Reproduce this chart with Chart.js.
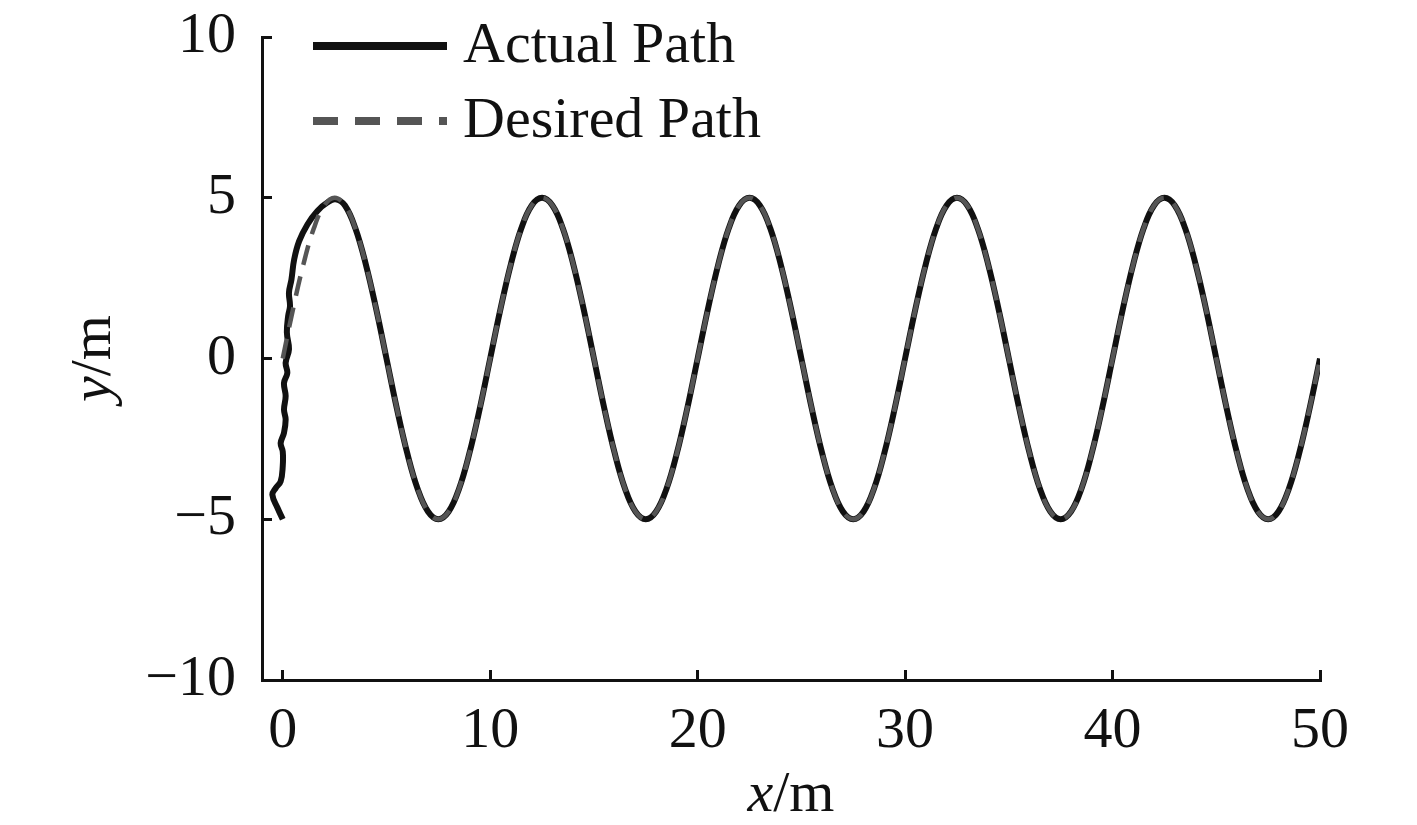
<!DOCTYPE html>
<html>
<head>
<meta charset="utf-8">
<script src="https://cdn.jsdelivr.net/npm/chart.js@4"></script>
<style>
  html, body { margin: 0; padding: 0; background: #fff; }
  #wrap { width: 1417px; height: 825px; }
</style>
</head>
<body>
<div id="wrap"><canvas id="myChart" width="1417" height="825"></canvas></div>
<script>
// tick labels
const xTicks = [0, 10, 20, 30, 40, 50];
const yTicks = [-10, -5, 0, 5, 10];
const seriesNames = ["Actual Path", "Desired Path"];

// desired path, read every 0.5 m
const desiredX = [
  0, 0.5, 1, 1.5, 2, 2.5, 3, 3.5, 4, 4.5, 5, 5.5, 6, 6.5, 7, 7.5, 8, 8.5, 9, 9.5,
  10, 10.5, 11, 11.5, 12, 12.5, 13, 13.5, 14, 14.5, 15, 15.5, 16, 16.5, 17, 17.5, 18, 18.5, 19, 19.5,
  20, 20.5, 21, 21.5, 22, 22.5, 23, 23.5, 24, 24.5, 25, 25.5, 26, 26.5, 27, 27.5, 28, 28.5, 29, 29.5,
  30, 30.5, 31, 31.5, 32, 32.5, 33, 33.5, 34, 34.5, 35, 35.5, 36, 36.5, 37, 37.5, 38, 38.5, 39, 39.5,
  40, 40.5, 41, 41.5, 42, 42.5, 43, 43.5, 44, 44.5, 45, 45.5, 46, 46.5, 47, 47.5, 48, 48.5, 49, 49.5,
  50
];
const desiredY = [
  0, 1.55, 2.94, 4.05, 4.76, 5, 4.76, 4.05, 2.94, 1.55, 0, -1.55, -2.94, -4.05, -4.76, -5, -4.76, -4.05, -2.94, -1.55,
  0, 1.55, 2.94, 4.05, 4.76, 5, 4.76, 4.05, 2.94, 1.55, 0, -1.55, -2.94, -4.05, -4.76, -5, -4.76, -4.05, -2.94, -1.55,
  0, 1.55, 2.94, 4.05, 4.76, 5, 4.76, 4.05, 2.94, 1.55, 0, -1.55, -2.94, -4.05, -4.76, -5, -4.76, -4.05, -2.94, -1.55,
  0, 1.55, 2.94, 4.05, 4.76, 5, 4.76, 4.05, 2.94, 1.55, 0, -1.55, -2.94, -4.05, -4.76, -5, -4.76, -4.05, -2.94, -1.55,
  0, 1.55, 2.94, 4.05, 4.76, 5, 4.76, 4.05, 2.94, 1.55, 0, -1.55, -2.94, -4.05, -4.76, -5, -4.76, -4.05, -2.94, -1.55,
  0
];

// start of the actual path (wobbly climb from (0,-5)) until it joins the desired one near x = 3
const startX = [0, -0.25, -0.5, -0.34, -0.1, 0, 0, -0.1, 0.06, 0.14, 0.06, 0.14, 0.06, 0.22, 0.14,
  0.3, 0.2, 0.26, 0.35, 0.3, 0.42, 0.55, 0.79, 1.19, 1.67, 2.15, 2.55];
const startY = [-5, -4.65, -4.24, -4.03, -3.82, -3.35, -2.89, -2.63, -2.31, -1.9, -1.59, -1.17, -0.76, -0.45, -0.13,
  0.28, 0.8, 1.32, 1.63, 2.05, 2.46, 3.08, 3.65, 4.17, 4.59, 4.85, 4.95];

// after that it lies on the desired path
const actualX = startX.concat(desiredX.slice(6));
const actualY = startY.concat(desiredY.slice(6));

const FONT = '"Liberation Serif", "Times New Roman", serif';
const FS = 58;

function toPoints(xs, ys) {
  return xs.map((x, i) => ({ x: x, y: ys[i] }));
}

function drawMixed(ctx, a, b, cx, y) {
  ctx.font = "italic " + FS + "px " + FONT;
  const wa = ctx.measureText(a).width;
  ctx.font = FS + "px " + FONT;
  const wb = ctx.measureText(b).width;
  const x = cx - (wa + wb) / 2;
  ctx.textAlign = "left";
  ctx.font = "italic " + FS + "px " + FONT;
  ctx.fillText(a, x, y);
  ctx.font = FS + "px " + FONT;
  ctx.fillText(b, x + wa, y);
}

// axis titles (italic variable + upright unit) and the line legend
const extras = {
  id: "extras",
  afterDraw(chart) {
    const ctx = chart.ctx;
    const area = chart.chartArea;
    ctx.save();
    ctx.fillStyle = "#111";
    ctx.textBaseline = "alphabetic";
    drawMixed(ctx, "x", "/m", (area.left + area.right) / 2, 811);
    ctx.translate(110, (area.top + area.bottom) / 2);
    ctx.rotate(-Math.PI / 2);
    drawMixed(ctx, "y", "/m", 0, 0);
    ctx.restore();

    chart.data.datasets.forEach((ds, i) => {
      const y = area.top + 9 + i * 75;
      ctx.save();
      ctx.strokeStyle = ds.borderColor;
      ctx.lineWidth = 8;
      ctx.setLineDash(ds.legendDash || []);
      ctx.beginPath();
      ctx.moveTo(area.left + 51, y);
      ctx.lineTo(area.left + 185, y);
      ctx.stroke();
      ctx.restore();
      ctx.save();
      ctx.fillStyle = "#111";
      ctx.font = FS + "px " + FONT;
      ctx.textAlign = "left";
      ctx.textBaseline = "alphabetic";
      ctx.fillText(ds.label, area.left + 201, y + 16);
      ctx.restore();
    });
  }
};

const data = {
  datasets: [
    {
      label: seriesNames[0],
      data: toPoints(actualX, actualY),
      borderColor: "#111111",
      borderWidth: 6,
      borderJoinStyle: "round",
      pointRadius: 0,
      tension: 0.4,
      order: 2,
    },
    {
      label: seriesNames[1],
      data: toPoints(desiredX, desiredY),
      borderColor: "#555555",
      borderWidth: 4.5,
      borderDash: [20, 12],
      legendDash: [25, 17],
      pointRadius: 0,
      tension: 0.4,
      order: 1,
    },
  ],
};

const config = {
  type: "line",
  data,
  options: {
    responsive: false,
    animation: false,
    devicePixelRatio: 1,
    layout: { padding: { left: 0, top: 37, right: 97, bottom: 0 } },
    plugins: { legend: { display: false }, tooltip: { enabled: false } },
    scales: {
      x: {
        type: "linear",
        min: -1,
        max: 50,
        afterBuildTicks: (scale) => { scale.ticks = xTicks.map((v) => ({ value: v })); },
        afterFit: (scale) => { scale.height = 145; },
        border: { display: true, color: "#111", width: 3 },
        grid: { drawOnChartArea: false, drawTicks: true, tickLength: -10, color: "#111", lineWidth: 3 },
        ticks: { color: "#111", font: { family: FONT, size: FS }, padding: 27, maxRotation: 0 },
      },
      y: {
        type: "linear",
        min: -10,
        max: 10,
        afterBuildTicks: (scale) => { scale.ticks = yTicks.map((v) => ({ value: v })); },
        afterFit: (scale) => {
          scale.width = 262;
          scale.paddingTop = 0;
          scale.paddingBottom = 0;
        },
        border: { display: true, color: "#111", width: 3 },
        grid: { drawOnChartArea: false, drawTicks: true, tickLength: -10, color: "#111", lineWidth: 3 },
        ticks: {
          color: "#111",
          font: { family: FONT, size: FS },
          padding: 36,
          callback: (v) => String(v).replace("-", "\u2212"),
        },
      },
    },
  },
  plugins: [extras],
};

var myChart = new Chart(document.getElementById("myChart"), config);
</script>
</body>
</html>
